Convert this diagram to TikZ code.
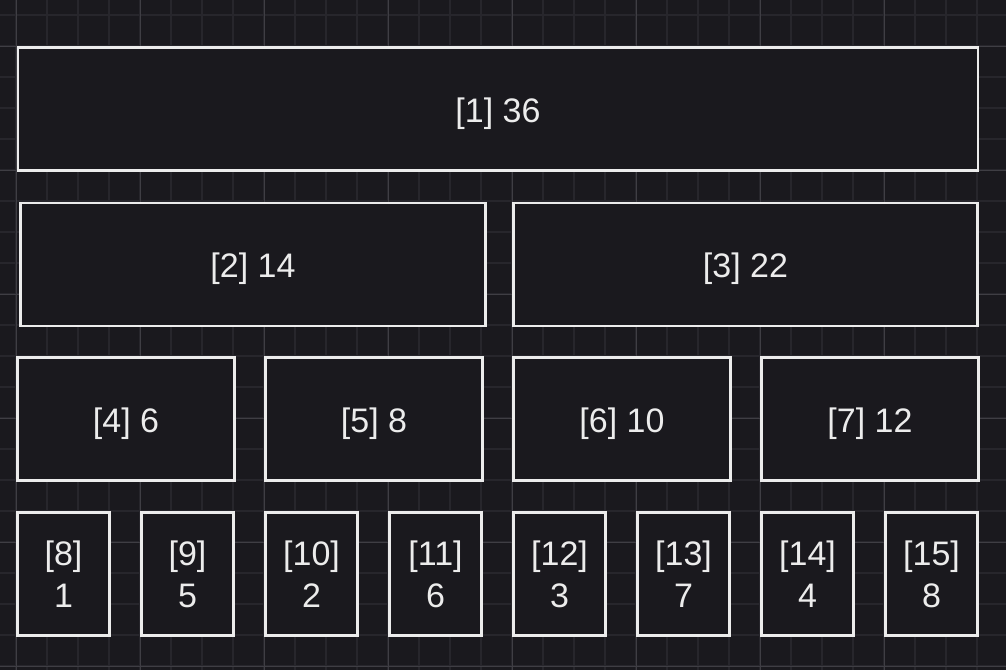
\documentclass[tikz,border=0pt]{standalone}
\usepackage{fontspec}
\setmainfont{Liberation Sans}
\definecolor{PageBg}{HTML}{1A191E}
\definecolor{GridMinor}{HTML}{27262C}
\definecolor{GridMajor}{HTML}{3F3E44}
\definecolor{CellRule}{HTML}{ECECEC}

\begin{document}
\begin{tikzpicture}[x=1pt, y=-1pt,
  cell/.style={draw=CellRule, fill=PageBg, line width=2.4pt, inner sep=0pt,
               align=center, text=CellRule, font=\fontsize{34}{42}\selectfont},
  wide/.style={cell, minimum height=123pt, text height=34pt, text depth=7.5pt},
  leaf/.style={cell, minimum width=92pt, minimum height=123pt}]
  % background and grid
  \fill[PageBg] (0,0) rectangle (1006,670);
  \useasboundingbox (0,0) rectangle (1006,670);
  \foreach \gx in {16,47,...,1006} \draw[GridMinor, line width=1.2pt] (\gx,0) -- (\gx,670);
  \foreach \gy in {15,46,...,670} \draw[GridMinor, line width=1.2pt] (0,\gy) -- (1006,\gy);
  \foreach \gx in {16,140,...,1006} \draw[GridMajor, line width=0.9pt] (\gx,0) -- (\gx,670);
  \foreach \gy in {46,170,...,670} \draw[GridMajor, line width=0.9pt] (0,\gy) -- (1006,\gy);
  % level 1
  \node[wide, minimum width=960pt] (n1) at (498,109) {[1] 36};
  % level 2
  \node[wide, minimum width=465pt] (n2) at (253,264.5) {[2] 14};
  \node[wide, minimum width=464pt] (n3) at (745.5,264.5) {[3] 22};
  % level 3
  \node[wide, minimum width=217pt] (n4) at (126,419) {[4] 6};
  \node[wide, minimum width=217pt] (n5) at (374,419) {[5] 8};
  \node[wide, minimum width=217pt] (n6) at (622,419) {[6] 10};
  \node[wide, minimum width=217pt] (n7) at (870,419) {[7] 12};
  % leaves
  \node[leaf] (n8) at (63.5,574) {[8]\\1};
  \node[leaf] (n9) at (187.5,574) {[9]\\5};
  \node[leaf] (n10) at (311.5,574) {[10]\\2};
  \node[leaf] (n11) at (435.5,574) {[11]\\6};
  \node[leaf] (n12) at (559.5,574) {[12]\\3};
  \node[leaf] (n13) at (683.5,574) {[13]\\7};
  \node[leaf] (n14) at (807.5,574) {[14]\\4};
  \node[leaf] (n15) at (931.5,574) {[15]\\8};
\end{tikzpicture}
\end{document}
